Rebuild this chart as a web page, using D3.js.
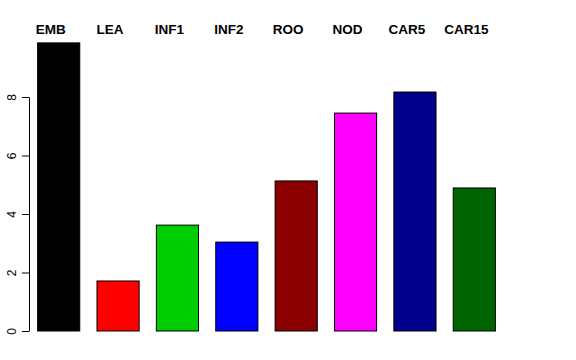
<!DOCTYPE html>
<html>
<head>
<meta charset="utf-8">
<script src="https://cdn.jsdelivr.net/npm/d3@7"></script>
<style>
  body { margin: 0; background: #fff; }
  svg { display: block; }
</style>
</head>
<body>
<svg width="576" height="360"></svg>
<script>
var categories = ["EMB", "LEA", "INF1", "INF2", "ROO", "NOD", "CAR5", "CAR15"];
var values = [9.85, 1.71, 3.62, 3.04, 5.13, 7.45, 8.17, 4.89];
var colours = ["#000000", "#FF0000", "#00CD00", "#0000FF", "#8B0000", "#FF00FF", "#00008B", "#006400"];
var yTicks = [0, 2, 4, 6, 8];

var svg = d3.select("svg");

var x = d3.scaleBand()
    .domain(categories)
    .range([29, 504])
    .paddingInner(0.29)
    .paddingOuter(0.145);

var y = d3.scaleLinear()
    .domain([0, 8])
    .range([331, 97]);

// bars
svg.selectAll(".bar")
    .data(categories)
    .enter().append("rect")
      .attr("class", "bar")
      .attr("x", function(d){ return x(d); })
      .attr("width", x.bandwidth())
      .attr("y", function(d, i){ return y(values[i]); })
      .attr("height", function(d, i){ return y(0) - y(values[i]); })
      .attr("fill", function(d, i){ return colours[i]; })
      .attr("stroke", "#000")
      .attr("stroke-width", 1);

// y axis
var yAxis = svg.append("g")
    .attr("transform", "translate(29,0)")
    .call(d3.axisLeft(y).tickValues(yTicks).tickSize(7).tickSizeOuter(0).tickFormat(d3.format("d")));
yAxis.select(".domain").attr("stroke", "#000");
yAxis.selectAll(".tick line").attr("stroke", "#000");
yAxis.selectAll(".tick text")
    .attr("font-family", "Liberation Sans, Arial, sans-serif")
    .attr("font-size", 12)
    .attr("fill", "#000")
    .attr("text-anchor", "middle")
    .attr("transform", "rotate(-90)")
    .attr("x", 0)
    .attr("y", -13)
    .attr("dy", 0);

// category labels on top, slightly left of each bar centre
svg.selectAll(".lab")
    .data(categories)
    .enter().append("text")
      .attr("class", "lab")
      .attr("x", function(d){ return x(d) + x.bandwidth() / 2 - 8; })
      .attr("y", 34)
      .attr("text-anchor", "middle")
      .attr("font-family", "Liberation Sans, Arial, sans-serif")
      .attr("font-weight", "bold")
      .attr("font-size", 13.5)
      .attr("fill", "#000")
      .text(function(d){ return d; });
</script>
</body>
</html>
